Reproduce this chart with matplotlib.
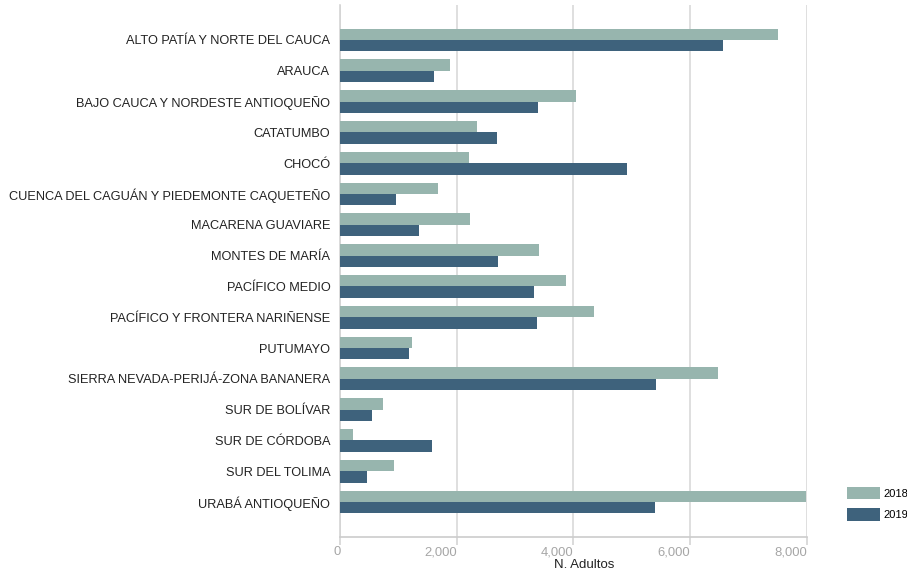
import numpy as np
import matplotlib.pyplot as plt

plt.rcParams['font.family'] = ['Liberation Sans', 'DejaVu Sans']

regiones = ["ALTO PATÍA Y NORTE DEL CAUCA", "ARAUCA", "BAJO CAUCA Y NORDESTE ANTIOQUEÑO",
            "CATATUMBO", "CHOCÓ", "CUENCA DEL CAGUÁN Y PIEDEMONTE CAQUETEÑO",
            "MACARENA GUAVIARE", "MONTES DE MARÍA", "PACÍFICO MEDIO",
            "PACÍFICO Y FRONTERA NARIÑENSE", "PUTUMAYO", "SIERRA NEVADA-PERIJÁ-ZONA BANANERA",
            "SUR DE BOLÍVAR", "SUR DE CÓRDOBA", "SUR DEL TOLIMA", "URABÁ ANTIOQUEÑO"]
adultos_2018 = [7510, 1886, 4046, 2338, 2201, 1669, 2217, 3411, 3863, 4349,
                1223, 6474, 737, 223, 926, 7990]
adultos_2019 = [6560, 1606, 3384, 2686, 4910, 954, 1354, 2703, 3314, 3366,
                1171, 5411, 543, 1571, 457, 5394]
ticks_x = [0, 2000, 4000, 6000, 8000]

c2018, c2019 = "#97b5ae", "#3e627c"

fig = plt.figure(figsize=(9.07, 5.71), dpi=100)
ax = fig.add_axes([0.3752, 0.0590, 0.5142, 0.9328])

y = np.arange(len(regiones))
h = 0.37
ax.barh(y - h / 2, adultos_2018, height=h, color=c2018, label="2018", zorder=3)
ax.barh(y + h / 2, adultos_2019, height=h, color=c2019, label="2019", zorder=3)

ax.set_xlim(0, 8000)
ax.set_ylim(len(regiones) - 1 + 1.146, -1.146)

ax.set_yticks(y)
ax.set_yticklabels(regiones, fontsize=9.2, color="#222222")
ax.tick_params(axis="y", length=0, pad=7.2)

ax.set_xticks(ticks_x)
ax.set_xticklabels([f"{v:,}" for v in ticks_x], fontsize=9.4, color="#a6a6a6", ha="right")
ax.tick_params(axis="x", length=6, width=1.2, color="#d4d4d4", pad=0.3)
ax.grid(axis="x", color="#d9d9d9", linewidth=1.2, zorder=0)

for s in ["top", "right"]:
    ax.spines[s].set_visible(False)
ax.spines["left"].set_color("#d4d4d4")
ax.spines["bottom"].set_color("#cccccc")
ax.spines["left"].set_linewidth(1.2)
ax.spines["bottom"].set_linewidth(1.2)

ax.set_xlabel("N. Adultos", fontsize=9.5, color="#222222")
ax.xaxis.set_label_coords(0.523, -0.040)

fig.legend(loc="upper left", bbox_to_anchor=(847.3 / 907, 1 - 486.7 / 571),
           frameon=False, fontsize=8, handlelength=2.97, handleheight=1.37,
           labelspacing=0.82, handletextpad=0.3, borderpad=0, borderaxespad=0)

fig.savefig("out.png", dpi=100)
